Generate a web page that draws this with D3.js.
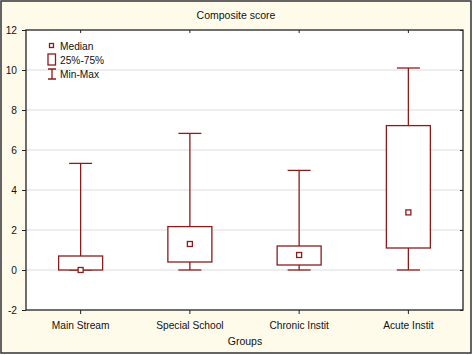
<html>
<head>
<meta charset="utf-8">
<style>
  body { margin: 0; background: #fff; }
  text { font-family: "Liberation Sans", Arial, sans-serif; fill: #111; }
</style>
</head>
<body>
<svg id="chart" width="473" height="355"></svg>
<script src="https://d3js.org/d3.v7.min.js"></script>
<script>

// data
var groups  = ["Main Stream", "Special School", "Chronic Instit", "Acute Instit"]
var mins    = [0, 0, 0, 0]
var q1s     = [0, 0.4, 0.25, 1.1]
var medians = [0, 1.3, 0.75, 2.88]
var q3s     = [0.7, 2.17, 1.2, 7.22]
var maxs    = [5.33, 6.83, 4.98, 10.1]
var yTicks  = [-2, 0, 2, 4, 6, 8, 10, 12]
var legendLabels = ["Median", "25%-75%", "Min-Max"]

var boxes = groups.map(function(g, i) {
  return {grp: g, min: mins[i], q1: q1s[i], med: medians[i], q3: q3s[i], max: maxs[i]}
})

var W = 473, H = 355
var pLeft = 26, pRight = 463, pTop = 30, pBottom = 310   // plot area (note: "top" is taken by window.top)
var red = "#8b1c1c"
var fs = "10.2px"

var svg = d3.select("#chart")

// outer panel
svg.append("rect")
  .attr("x", 1).attr("y", 1).attr("width", W - 3).attr("height", H - 3)
  .attr("fill", "#fffbea").attr("stroke", "#333").attr("stroke-width", 1.5)

svg.append("rect")
  .attr("x", pLeft).attr("y", pTop).attr("width", pRight - pLeft).attr("height", pBottom - pTop)
  .attr("fill", "#fff")

var x = d3.scaleBand().domain(groups).range([pLeft, pRight])
var y = d3.scaleLinear().domain([-2, 12]).range([pBottom, pTop])

// gridlines
svg.append("g").selectAll("line")
  .data(yTicks.filter(function(d) { return d > -2 && d < 12 }))
  .enter().append("line")
    .attr("x1", pLeft).attr("x2", pRight)
    .attr("y1", function(d) { return y(d) }).attr("y2", function(d) { return y(d) })
    .attr("stroke", "#dcdcdc").attr("stroke-width", 1)

// axes
var yAxis = svg.append("g")
  .attr("transform", "translate(" + pLeft + ",0)")
  .call(d3.axisLeft(y).tickValues(yTicks).tickSize(4).tickPadding(5)
    .tickFormat(function(d) { return String(d) }))   // plain hyphen, like the original
var yAxisR = svg.append("g")
  .attr("transform", "translate(" + pRight + ",0)")
  .call(d3.axisLeft(y).tickValues(yTicks).tickSize(3).tickFormat(""))
var xAxis = svg.append("g")
  .attr("transform", "translate(0," + pBottom + ")")
  .call(d3.axisBottom(x).tickSize(4).tickPadding(8))
var xAxisT = svg.append("g")
  .attr("transform", "translate(0," + pTop + ")")
  .call(d3.axisBottom(x).tickSize(3).tickFormat(""))

;[yAxis, yAxisR, xAxis, xAxisT].forEach(function(a) {
  a.select(".domain").remove()
  a.selectAll("line").attr("stroke", "#222")
  a.selectAll("text").style("font-size", fs).style("font-family", "Liberation Sans, Arial, sans-serif").attr("fill", "#111")
})

// plot frame
svg.append("rect")
  .attr("x", pLeft).attr("y", pTop).attr("width", pRight - pLeft).attr("height", pBottom - pTop)
  .attr("fill", "none").attr("stroke", "#222").attr("stroke-width", 1.3)

// boxes
var boxW = 44, capW = 23, medS = 5
var g = svg.append("g").selectAll("g").data(boxes).enter().append("g")
  .attr("transform", function(d) { return "translate(" + (x(d.grp) + x.bandwidth() / 2) + ",0)" })

g.append("line")
  .attr("x1", 0).attr("x2", 0)
  .attr("y1", function(d) { return y(d.max) }).attr("y2", function(d) { return y(d.q3) })
  .attr("stroke", red).attr("stroke-width", 1.3)
g.append("line")
  .attr("x1", 0).attr("x2", 0)
  .attr("y1", function(d) { return y(d.q1) }).attr("y2", function(d) { return y(d.min) })
  .attr("stroke", red).attr("stroke-width", 1.3)
g.append("line")
  .attr("x1", -capW / 2).attr("x2", capW / 2)
  .attr("y1", function(d) { return y(d.max) }).attr("y2", function(d) { return y(d.max) })
  .attr("stroke", red).attr("stroke-width", 1.3)
g.append("line")
  .attr("x1", -capW / 2).attr("x2", capW / 2)
  .attr("y1", function(d) { return y(d.min) }).attr("y2", function(d) { return y(d.min) })
  .attr("stroke", red).attr("stroke-width", 1.3)
g.append("rect")
  .attr("x", -boxW / 2).attr("width", boxW)
  .attr("y", function(d) { return y(d.q3) })
  .attr("height", function(d) { return y(d.q1) - y(d.q3) })
  .attr("fill", "#fff").attr("stroke", red).attr("stroke-width", 1.3)
g.append("rect")
  .attr("x", -medS / 2).attr("width", medS)
  .attr("y", function(d) { return y(d.med) - medS / 2 }).attr("height", medS)
  .attr("fill", "#fff").attr("stroke", red).attr("stroke-width", 1.3)

// legend
var lg = svg.append("g")
lg.append("rect").attr("x", 49.5).attr("y", 43.5).attr("width", 4).attr("height", 4)
  .attr("fill", "#fff").attr("stroke", red).attr("stroke-width", 1.3)
lg.append("rect").attr("x", 48).attr("y", 54).attr("width", 7.5).attr("height", 11)
  .attr("fill", "#fff").attr("stroke", red).attr("stroke-width", 1.3)
lg.append("path").attr("d", "M48,69H56M52,69V79M48,79H56")
  .attr("fill", "none").attr("stroke", red).attr("stroke-width", 1.3)
lg.selectAll("text").data(legendLabels).enter().append("text")
  .attr("x", 60)
  .attr("y", function(d, i) { return [49.5, 64, 78][i] })
  .style("font-size", fs)
  .text(function(d) { return d })

// titles
svg.append("text").attr("x", 236).attr("y", 19).attr("text-anchor", "middle")
  .style("font-size", "10.5px").text("Composite score")
svg.append("text").attr("x", 245).attr("y", 345).attr("text-anchor", "middle")
  .style("font-size", "10.5px").text("Groups")

</script>
</body>
</html>
